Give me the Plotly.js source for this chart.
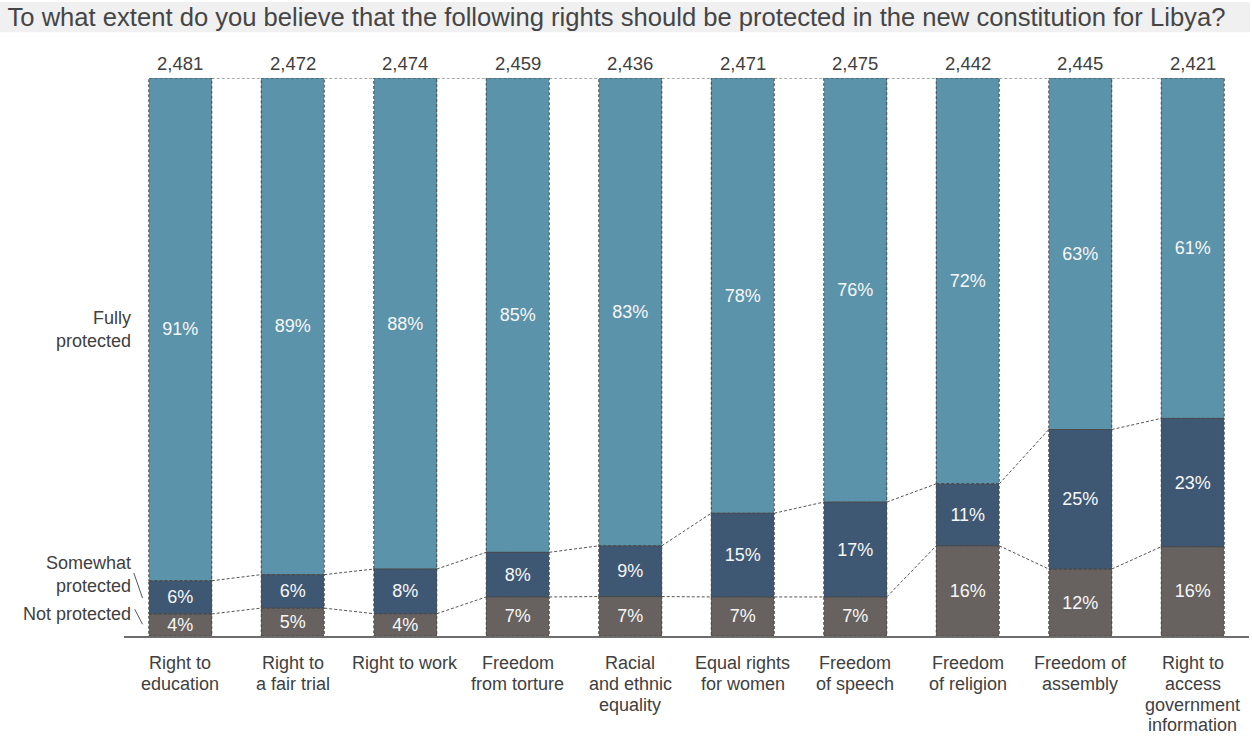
<!DOCTYPE html>
<html>
<head>
<meta charset="utf-8">
<script src="https://cdn.plot.ly/plotly-3.0.1.min.js"></script>
<style>html,body{margin:0;padding:0;background:#fff;}#chart{width:1252px;height:737px;}</style>
</head>
<body>
<div id="chart"></div>
<script>
// ---- data ----
const categories = ['Right to education','Right to a fair trial','Right to work','Freedom from torture','Racial and ethnic equality','Equal rights for women','Freedom of speech','Freedom of religion','Freedom of assembly','Right to access government information'];
const tickLabels = [
  ['Right to', 'education'],
  ['Right to', 'a fair trial'],
  ['Right to work'],
  ['Freedom', 'from torture'],
  ['Racial', 'and ethnic', 'equality'],
  ['Equal rights', 'for women'],
  ['Freedom', 'of speech'],
  ['Freedom', 'of religion'],
  ['Freedom of', 'assembly'],
  ['Right to', 'access', 'government', 'information']
];
const notProtected = [4, 5, 4, 7, 7, 7, 7, 16, 12, 16];
const somewhatProtected = [6, 6, 8, 8, 9, 15, 17, 11, 25, 23];
const fullyProtected = [91, 89, 88, 85, 83, 78, 76, 72, 63, 61];
const totals = [2481, 2472, 2474, 2459, 2436, 2471, 2475, 2442, 2445, 2421];
const seriesNames = ['Not protected', 'Somewhat protected', 'Fully protected'];

// ---- styles ----
const colors = ['#67625f', '#3e5874', '#5b93aa'];
const textColor = '#404040';
const fontFamily = 'Liberation Sans, Arial, sans-serif';
const barWidth = 0.56;
const dash = '3px,2px';
const outlineColor = '#4a4a4a';

const xs = categories.map((c, i) => i);
const series = [notProtected, somewhatProtected, fullyProtected];
const sums = xs.map(i => notProtected[i] + somewhatProtected[i] + fullyProtected[i]);
const shares = series.map(s => s.map((v, i) => v / sums[i]));

const traces = series.map((s, k) => ({
  type: 'bar',
  name: seriesNames[k],
  x: xs,
  y: shares[k],
  width: barWidth,
  marker: { color: colors[k], line: { width: 0 } },
  text: s.map(v => v + '%'),
  textposition: 'inside',
  insidetextanchor: 'middle',
  textangle: 0,
  constraintext: 'none',
  textfont: { family: fontFamily, size: 18, color: '#f7f7f7' },
  hoverinfo: 'skip'
}));

// cumulative levels
const levels = [xs.map(() => 0)];
shares.forEach((s, k) => levels.push(xs.map(i => levels[k][i] + s[i])));

// connector lines between bars
for (let k = 1; k <= 3; k++) {
  const cx = [], cy = [];
  for (let i = 0; i < xs.length - 1; i++) {
    cx.push(xs[i] + barWidth / 2, xs[i + 1] - barWidth / 2, null);
    cy.push(levels[k][i], levels[k][i + 1], null);
  }
  traces.push({
    type: 'scatter', mode: 'lines', x: cx, y: cy,
    line: { color: '#555555', width: 1, dash: dash },
    hoverinfo: 'skip', showlegend: false, cliponaxis: false
  });
}

const shapes = [];
// title band
shapes.push({ type: 'rect', xref: 'paper', yref: 'paper', x0: -124/1125, x1: 1126/1125, y0: 1.082, y1: 1.136,
  fillcolor: '#f0f0f0', line: { width: 0 }, layer: 'below' });
// dashed outlines of segments
xs.forEach(i => {
  for (let k = 0; k < 3; k++) {
    shapes.push({ type: 'rect', xref: 'x', yref: 'y', x0: xs[i] - barWidth / 2, x1: xs[i] + barWidth / 2,
      y0: levels[k][i], y1: levels[k + 1][i], line: { color: outlineColor, width: 1, dash: dash }, layer: 'above' });
  }
});
// legend pointer lines
shapes.push({ type: 'line', xref: 'x', yref: 'y', x0: -0.413, x1: -0.335, y0: 0.113, y1: 0.068, line: { color: '#555', width: 1 } });
shapes.push({ type: 'line', xref: 'x', yref: 'y', x0: -0.405, x1: -0.335, y0: 0.048, y1: 0.021, line: { color: '#555', width: 1 } });

const annotations = [];
// totals above bars
xs.forEach(i => annotations.push({
  x: xs[i], y: 1, xref: 'x', yref: 'y', yanchor: 'bottom', yshift: 2, showarrow: false,
  text: totals[i].toLocaleString('en-US'), font: { family: fontFamily, size: 18.5, color: textColor }
}));
// category labels (one annotation per line for tight line spacing)
xs.forEach(i => tickLabels[i].forEach((line, j) => annotations.push({
  x: xs[i], y: 0, xref: 'x', yref: 'y', yanchor: 'middle', yshift: -(27 + j * 20.8), showarrow: false,
  text: line, font: { family: fontFamily, size: 18, color: textColor }
})));
const legendFont = { family: fontFamily, size: 18, color: textColor };
annotations.push({ x: -0.42, y: levels[2][0] + shares[2][0] / 2, xref: 'x', yref: 'y', xanchor: 'right', yanchor: 'middle', align: 'right',
  showarrow: false, text: 'Fully<br>protected', font: legendFont });
annotations.push({ x: -0.42, y: 0.11, xref: 'x', yref: 'y', xanchor: 'right', yanchor: 'middle', align: 'right',
  showarrow: false, text: 'Somewhat<br>protected', font: legendFont });
annotations.push({ x: -0.42, y: 0.039, xref: 'x', yref: 'y', xanchor: 'right', yanchor: 'middle', align: 'right',
  showarrow: false, text: 'Not protected', font: legendFont });

const layout = {
  width: 1252, height: 737,
  margin: { l: 124, r: 3, t: 78, b: 101 },
  paper_bgcolor: '#ffffff', plot_bgcolor: '#ffffff',
  barmode: 'stack',
  showlegend: false,
  hovermode: false,
  font: { family: fontFamily, color: textColor },
  title: {
    text: 'To what extent do you believe that the following rights should be protected in the new constitution for Libya?',
    font: { family: fontFamily, size: 25.6, color: '#454545' },
    x: 0.006, xref: 'container', xanchor: 'left',
    y: 0.977, yref: 'container', yanchor: 'middle'
  },
  xaxis: {
    range: [-0.5, 9.5], tickmode: 'array', tickvals: xs, showticklabels: false,
    showline: true, linecolor: '#6d6d6d', linewidth: 1.5,
    showgrid: false, zeroline: false, ticks: '', fixedrange: true
  },
  yaxis: {
    range: [0, 1], visible: false, showgrid: false, zeroline: false, fixedrange: true
  },
  shapes: shapes,
  annotations: annotations
};

Plotly.newPlot('chart', traces, layout, { displayModeBar: false, staticPlot: true });
</script>
</body>
</html>
